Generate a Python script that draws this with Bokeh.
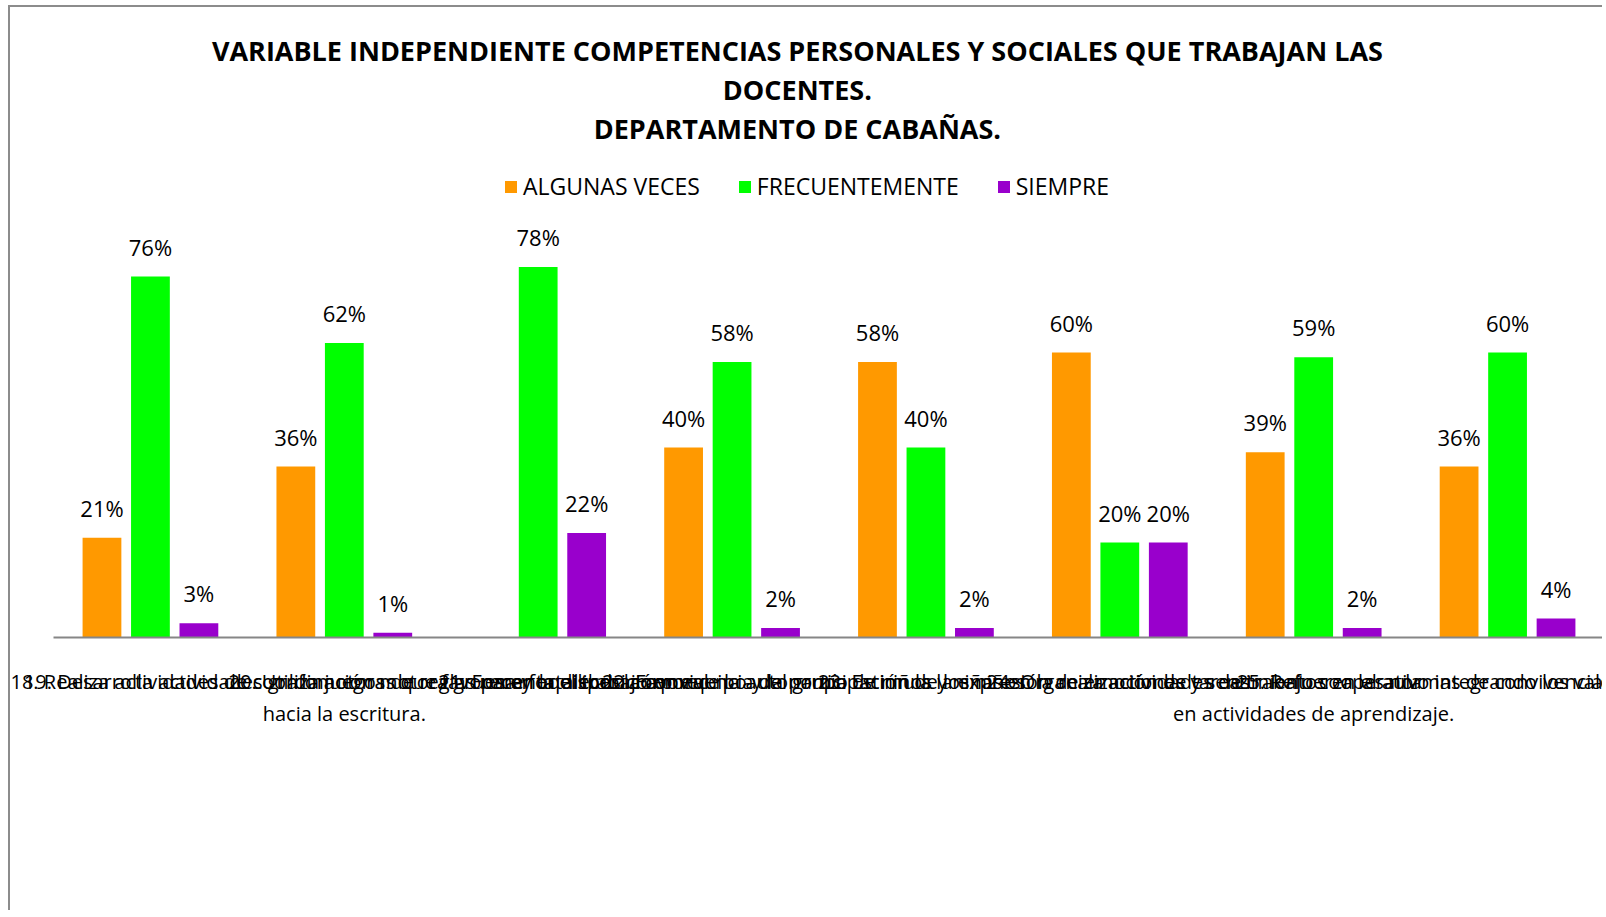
import math
from bokeh.plotting import figure
from bokeh.models import FactorRange, ColumnDataSource, Legend, LegendItem, Label
from bokeh.transform import dodge
from bokeh.core.properties import value
from bokeh.embed import file_html
from bokeh.resources import INLINE

categories = [
    "18. Realiza actividades de coordinación motora gruesa y equilibrio corporal",
    "19. Desarrolla actividades grafomotoras que favorecen la disposición\nhacia la escritura.",
    "20. Utiliza juegos de reglas para fortalecer la convivencia del grupo",
    "21. Fomenta el trabajo en equipo y la participación de los niños",
    "22. Favorece la autonomía de niños y niñas en la realización de tareas",
    "23. Estimula la expresión de emociones y sentimientos en el aula",
    "24. Organiza actividades de trabajo cooperativo integrando los valores\nen actividades de aprendizaje.",
    "25. Refuerza las normas de convivencia",
]
series = ["ALGUNAS VECES", "FRECUENTEMENTE", "SIEMPRE"]
algunas_veces = [21, 36, float("nan"), 40, 58, 60, 39, 36]
frecuentemente = [76, 62, 78, 58, 40, 20, 59, 60]
siempre = [3, 1, 22, 2, 2, 20, 2, 4]
colors = ["#FF9900", "#00FF00", "#9900CC"]
title_lines = [
    "VARIABLE INDEPENDIENTE COMPETENCIAS PERSONALES Y SOCIALES QUE TRABAJAN LAS",
    "DOCENTES.",
    "DEPARTAMENTO DE CABAÑAS.",
]


def lbl(vals):
    return ["" if (isinstance(v, float) and math.isnan(v)) else f"{v}%" for v in vals]


src = ColumnDataSource(dict(
    cat=categories,
    a=algunas_veces, f=frecuentemente, s=siempre,
    a_l=lbl(algunas_veces), f_l=lbl(frecuentemente), s_l=lbl(siempre),
))

FONT = "Open Sans"
PX_PER_UNIT = 4.75
BASE = 630  # baseline, px from canvas top

p = figure(
    x_range=FactorRange(*categories), y_range=(0, BASE / PX_PER_UNIT),
    width=1594, height=905, output_backend="svg", toolbar_location=None,
    min_border_left=43, min_border_right=0, min_border_top=0,
    min_border_bottom=905 - BASE,
    title=None,
)
p.styles = {"margin-left": "8px", "margin-top": "5px",
            "border-left": "2px solid #8c8c8c", "border-top": "2px solid #8c8c8c"}

items = []
for key, off, col, name in zip(["a", "f", "s"], [-0.25, 0.0, 0.25], colors, series):
    r = p.vbar(x=dodge("cat", off, range=p.x_range), top=key, width=0.2, source=src,
               fill_color=col, line_color=None)
    p.text(x=dodge("cat", off, range=p.x_range), y=key, text=key + "_l", source=src,
           text_align="center", text_baseline="bottom", y_offset=-15,
           text_font=value(FONT), text_font_size="22px", text_color="black")
    items.append(LegendItem(label=name, renderers=[r]))

legend = Legend(items=items, orientation="horizontal", location=(450, 435),
                label_text_font=FONT, label_text_font_size="23px", label_text_color="black",
                glyph_width=15, glyph_height=15, label_standoff=5, spacing=37,
                border_line_color=None, background_fill_alpha=0)
p.add_layout(legend)

title_x = 3.837  # horizontal centre of the title block, in category units
for t, ty in zip(title_lines, [43, 82, 121]):
    p.add_layout(Label(x=title_x, y=(BASE - ty) / PX_PER_UNIT, text=t,
                       text_align="center", text_baseline="middle",
                       text_font=FONT, text_font_size="27px",
                       text_font_style="bold", text_color="black"))

p.yaxis.visible = False
p.xgrid.grid_line_color = None
p.ygrid.grid_line_color = None
p.outline_line_color = None
p.xaxis.axis_line_color = "#868686"
p.xaxis.axis_line_width = 2
p.xaxis.major_tick_line_color = None
p.xaxis.minor_tick_line_color = None
p.xaxis.major_label_text_font = FONT
p.xaxis.major_label_text_font_size = "20px"
p.xaxis.major_label_text_color = "black"
p.xaxis.major_label_standoff = 24
p.xaxis.major_label_text_line_height = 1.2

open("out.html", "w").write(file_html(p, INLINE))
